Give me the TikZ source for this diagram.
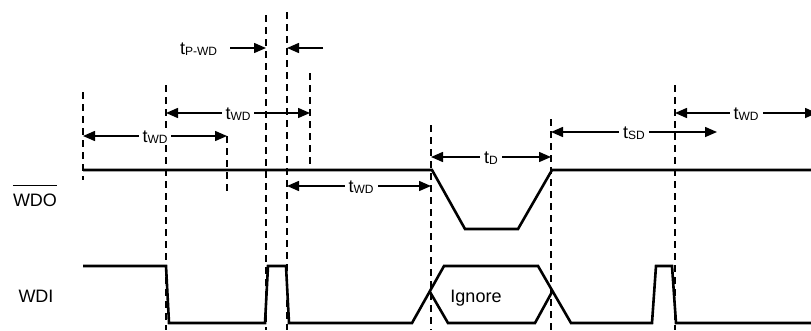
\documentclass[tikz,border=0pt]{standalone}
\usepackage{fontspec}
\setmainfont{Liberation Sans}
\usetikzlibrary{arrows.meta}
\newcommand\tlab[1]{t\raisebox{-1pt}{\fontsize{12}{12}\selectfont #1}}
\tikzset{
  sig/.style={line width=2.6pt, line join=miter, line cap=butt},
  guide/.style={line width=1.2pt, dash pattern=on 7pt off 5pt},
  dim/.style={line width=1.5pt, -{Triangle[length=12pt,width=10pt]}},
  dimboth/.style={line width=1.5pt, {Triangle[length=12pt,width=10pt]}-{Triangle[length=12pt,width=10pt]}},
  lab/.style={fill=white, inner xsep=4pt, inner ysep=0pt, text height=11pt, text depth=1.5pt, yshift=-1.5pt},
  txt/.style={inner sep=0pt, anchor=base}
}
\begin{document}
\begin{tikzpicture}[x=1pt, y=-1pt, font=\fontsize{18}{21}\selectfont]
\useasboundingbox (0,0) rectangle (811,330);
% guide lines
\draw[guide] (83,92) -- (83,180);
\draw[guide] (166,85) -- (166,330);
\draw[guide] (227,136) -- (227,192);
\draw[guide] (266,15) -- (266,330);
\draw[guide] (287,12) -- (287,330);
\draw[guide] (310,73) -- (310,170);
\draw[guide] (431,125) -- (431,330);
\draw[guide] (551,119) -- (551,330);
\draw[guide] (675,85) -- (675,330);
% signals
\draw[sig] (83,170) -- (432,170) -- (465,229) -- (518,229) -- (552,170) -- (811,170);
\draw[sig] (83,266) -- (166,266) -- (169,323) -- (265,323) -- (268,266) -- (286,266) -- (289,323)
  -- (412,323) -- (444,266) -- (538,266) -- (571,323) -- (652,323) -- (656,266) -- (672,266) -- (676,323) -- (811,323);
\draw[sig] (430,292) -- (448,323) -- (535,323) -- (552,292);
% signal names
\node[txt] (wdo) at (35,206) {WDO};
\draw[line width=1.4pt] ([yshift=8pt]wdo.north west) -- ([yshift=8pt]wdo.north east);
\node[txt] (wdi) at (36,302) {WDI};
\node[txt] (ign) at (476,302) {Ignore};
% timing dimensions
\draw[dimboth] (83,136) -- node[lab] (l1) {\tlab{WD}} (227,136);
\draw[dimboth] (166,113) -- node[lab] (l2) {\tlab{WD}} (310,113);
\draw[dimboth] (287,186) -- node[lab, xshift=2pt] (l3) {\tlab{WD}} (431,186);
\draw[dimboth] (431,157) -- node[lab] (l4) {\tlab{D}} (551,157);
\draw[dimboth] (551,132) -- node[lab] (l5) {\tlab{SD}} (717,132);
\draw[dimboth] (675,113) -- node[lab] (l6) {\tlab{WD}} (817,113);
\node[lab, fill=none] (lp) at (198.5,48) {\tlab{P-WD}};
\coordinate (pa) at (230,48);
\coordinate (pb) at (323,48);
\coordinate (pl) at (266,48);
\coordinate (pr) at (287,48);
\draw[dim] (pa) -- (pl);
\draw[dim] (pb) -- (pr);
\end{tikzpicture}
\end{document}
